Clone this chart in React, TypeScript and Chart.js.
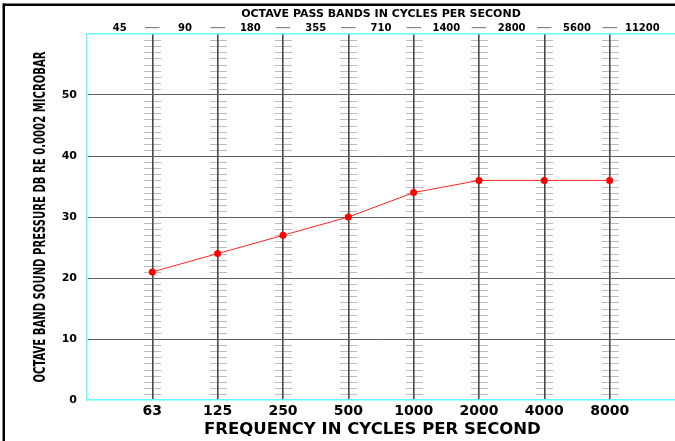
import { useEffect, useRef } from 'react';
import { Chart, registerables } from 'chart.js';

Chart.register(...registerables);

const bandCenters = ['63', '125', '250', '500', '1000', '2000', '4000', '8000'];
const passBands = ['45', '90', '180', '355', '710', '1400', '2800', '5600', '11200'];
const soundPressure = [21, 24, 27, 30, 34, 36, 36, 36];
const yMax = 60;
const yStep = 10;
const yTitle = 'OCTAVE BAND SOUND PRESSURE DB RE 0.0002 MICROBAR';
const xTitle = 'FREQUENCY IN CYCLES PER SECOND';
const topTitle = 'OCTAVE PASS BANDS IN CYCLES PER SECOND';

const BOLD = "'DejaVu Sans', sans-serif";

export default function App() {
  const ref = useRef<HTMLCanvasElement>(null);

  useEffect(() => {
    document.body.style.margin = '0';
    const canvas = ref.current!;

    const decor = {
      id: 'decor',
      beforeDraw(chart: any) {
        const { ctx } = chart;
        const x = chart.scales.x;
        const y = chart.scales.y;
        ctx.save();
        ctx.strokeStyle = '#bcbcbc';
        ctx.lineWidth = 1;
        for (let i = 0; i < bandCenters.length; i++) {
          const px = Math.round(x.getPixelForValue(i));
          for (let v = 1; v < yMax; v++) {
            if (v % yStep === 0) continue;
            const py = Math.round(y.getPixelForValue(v)) + 0.5;
            ctx.beginPath();
            ctx.moveTo(px - 8, py);
            ctx.lineTo(px + 9, py);
            ctx.stroke();
          }
        }
        ctx.restore();
      },
      afterDraw(chart: any) {
        const { ctx, chartArea } = chart;
        ctx.save();
        const cy = (chartArea.top + chartArea.bottom) / 2;
        ctx.translate(41, cy);
        ctx.rotate(-Math.PI / 2);
        ctx.font = "bold 16px 'DejaVu Sans Condensed', 'DejaVu Sans', sans-serif";
        const w = ctx.measureText(yTitle).width;
        ctx.scale(331 / w, 1);
        ctx.fillStyle = '#000';
        ctx.textAlign = 'center';
        ctx.textBaseline = 'middle';
        ctx.fillText(yTitle, 0, 0);
        ctx.restore();

        ctx.save();
        ctx.fillStyle = '#000';
        ctx.fillRect(3, 3.5, 672, 2.5);
        ctx.fillRect(2.5, 3.5, 2.5, 437.5);
        ctx.restore();
      },
    };

    const zeroPad = (scale: any) => {
      scale.paddingLeft = 0;
      scale.paddingRight = 0;
    };

    const chart = new Chart(canvas, {
      type: 'line',
      data: {
        datasets: [
          {
            data: soundPressure.map((v, i) => ({ x: i, y: v })),
            borderColor: '#ff2020',
            borderWidth: 1,
            backgroundColor: '#ff0000',
            pointBackgroundColor: '#ff0000',
            pointBorderColor: '#ff0000',
            pointBorderWidth: 0,
            pointRadius: 3.5,
            tension: 0,
          },
        ],
      },
      options: {
        responsive: false,
        animation: false,
        layout: { padding: 0, autoPadding: false },
        plugins: {
          legend: { display: false },
          tooltip: { enabled: false },
          title: { display: false },
        },
        scales: {
          x: {
            type: 'linear',
            position: 'bottom',
            min: -1,
            max: bandCenters.length,
            afterBuildTicks(scale: any) {
              const t = [];
              for (let v = -1; v <= bandCenters.length; v++) t.push({ value: v });
              scale.ticks = t;
            },
            afterFit(scale: any) {
              scale.height = 41;
              zeroPad(scale);
            },
            ticks: {
              autoSkip: false,
              maxRotation: 0,
              padding: 3,
              color: '#000',
              font: { family: BOLD, size: 14, weight: 'bold' },
              callback: (v: any) => bandCenters[v as number] ?? '',
            },
            grid: {
              drawTicks: false,
              color: (c: any) =>
                c.tick && c.tick.value >= 0 && c.tick.value < bandCenters.length ? '#484848' : 'transparent',
              lineWidth: 1.6,
            },
            border: { color: '#66ffff', width: 1.5 },
            title: {
              display: true,
              text: xTitle + '\u00a0\u00a0\u00a0',
              color: '#000',
              font: { family: BOLD, size: 16.5, weight: 'bold' },
              padding: { top: 0, bottom: 1 },
            },
          },
          x2: {
            type: 'linear',
            position: 'top',
            min: -1,
            max: bandCenters.length,
            afterBuildTicks(scale: any) {
              const t = [{ value: -1 }];
              for (let v = -0.5; v <= bandCenters.length - 0.5; v += 0.5) t.push({ value: v });
              t.push({ value: bandCenters.length });
              scale.ticks = t;
            },
            afterFit(scale: any) {
              scale.height = 34;
              zeroPad(scale);
            },
            ticks: {
              autoSkip: false,
              maxRotation: 0,
              padding: 0,
              color: (c: any) => (Number.isInteger(c.tick.value) ? '#808080' : '#000'),
              font: (c: any) =>
                c.tick && Number.isInteger(c.tick.value)
                  ? { family: BOLD, size: 16, weight: 'normal', lineHeight: 0.75 }
                  : { family: BOLD, size: 10, weight: 'bold', lineHeight: 1.2 },
              callback: (v: any) => {
                const n = v as number;
                if (n < 0 && Number.isInteger(n)) return '';
                if (n >= bandCenters.length) return '';
                if (Number.isInteger(n)) return '\u2014';
                return passBands[Math.floor(n + 1)] ?? '';
              },
            },
            grid: { display: false, drawTicks: false },
            border: { color: '#66ffff', width: 1.5 },
            title: {
              display: true,
              text: topTitle,
              color: '#000',
              font: { family: BOLD, size: 11, weight: 'bold' },
              padding: { top: 8, bottom: 0 },
            },
          },
          y: {
            type: 'linear',
            position: 'left',
            min: 0,
            max: yMax,
            afterFit(scale: any) {
              scale.width = 87;
            },
            ticks: {
              stepSize: yStep,
              padding: 10,
              color: '#000',
              font: { family: BOLD, size: 11, weight: 'bold' },
              callback: (v: any) => (v === yMax ? '' : String(v)),
            },
            grid: {
              drawTicks: false,
              color: (c: any) =>
                c.tick && (c.tick.value === 0 || c.tick.value === yMax) ? 'transparent' : '#606060',
              lineWidth: 1,
            },
            border: { color: '#66ffff', width: 1.5 },
            title: { display: false, text: yTitle },
          },
        },
      },
      plugins: [decor],
    } as any);

    return () => chart.destroy();
  }, []);

  return <canvas ref={ref} width={675} height={441} style={{ display: 'block', width: 675, height: 441 }} />;
}
